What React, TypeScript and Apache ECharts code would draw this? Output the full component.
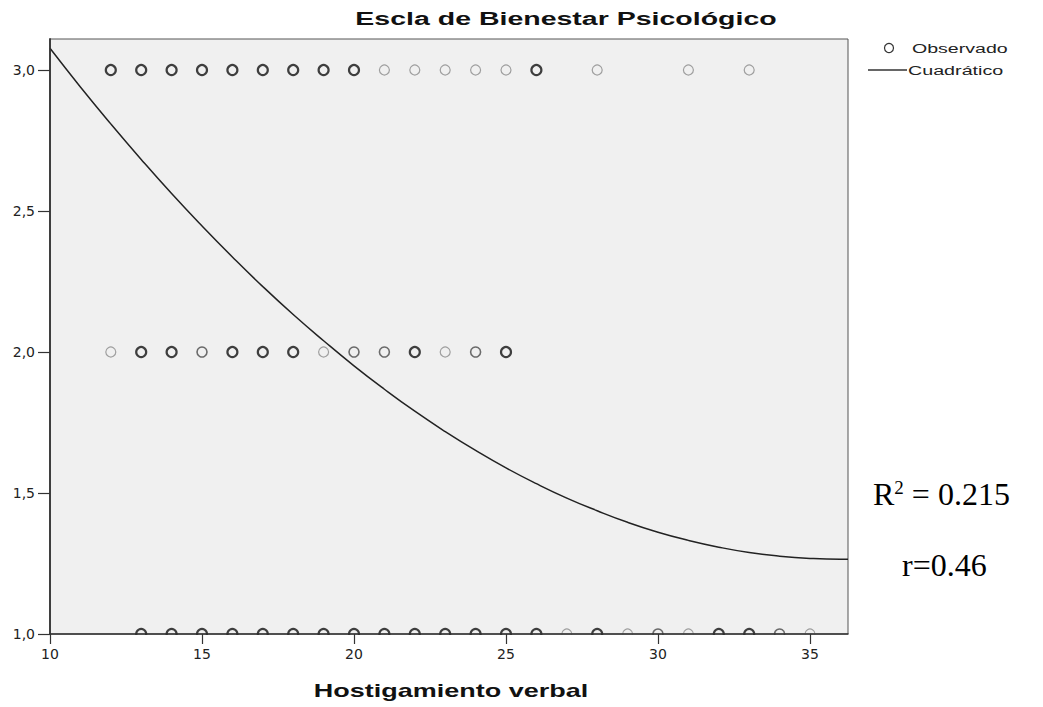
import React, { useEffect, useRef } from "react";
import * as echarts from "echarts";

// Observed points: x values per response level, and darkness (1 light .. 3 dense)
const row3X = [12, 13, 14, 15, 16, 17, 18, 19, 20, 21, 22, 23, 24, 25, 26, 28, 31, 33];
const row3W = [3, 3, 3, 3, 3, 3, 3, 3, 3, 1, 1, 1, 1, 1, 3, 1, 1, 1];
const row2X = [12, 13, 14, 15, 16, 17, 18, 19, 20, 21, 22, 23, 24, 25];
const row2W = [1, 3, 3, 2, 3, 3, 3, 1, 2, 2, 3, 1, 2, 3];
const row1X = [13, 14, 15, 16, 17, 18, 19, 20, 21, 22, 23, 24, 25, 26, 27, 28, 29, 30, 31, 32, 33, 34, 35];
const row1W = [3, 3, 3, 3, 3, 3, 3, 3, 3, 3, 3, 3, 3, 3, 1, 3, 1, 2, 1, 3, 3, 2, 1];

// Quadratic fit curve
const curveX = [10, 11, 12, 13, 14, 15, 16, 17, 18, 19, 20, 21, 22, 23, 24, 25, 26, 27, 28, 29, 30, 31, 32, 33, 34, 35, 36, 36.25];
const curveY = [
  3.077, 2.94, 2.809, 2.683, 2.562, 2.447, 2.337, 2.232, 2.133, 2.04, 1.951, 1.868, 1.79, 1.718,
  1.651, 1.589, 1.533, 1.482, 1.437, 1.396, 1.361, 1.332, 1.308, 1.289, 1.276, 1.268, 1.265, 1.265,
];

const xTicks = [10, 15, 20, 25, 30, 35];
const yTicks = [1, 1.5, 2, 2.5, 3];

const FONT = "'Liberation Sans', Arial, sans-serif";
const SERIF = "'Liberation Serif', 'Times New Roman', serif";
const shades = ["#8a8a8a", "#4a4a4a", "#111111"];
const widths = [1.2, 1.6, 2.2];

function pts(xs: number[], ws: number[], y: number) {
  return xs.map((x, i) => ({
    value: [x, y],
    itemStyle: { color: "none", borderColor: shades[ws[i] - 1], borderWidth: widths[ws[i] - 1] },
  }));
}

const labelStyle = {
  fontFamily: "'DejaVu Sans', sans-serif",
  fontSize: 14,
  color: "#222",
};

export default function App() {
  const ref = useRef<HTMLDivElement>(null);
  useEffect(() => {
    if (!ref.current) return;
    const chart = echarts.init(ref.current, undefined, { renderer: "svg" });
    const observed = [...pts(row3X, row3W, 3), ...pts(row2X, row2W, 2), ...pts(row1X, row1W, 1)];
    chart.setOption({
      animation: false,
      backgroundColor: "#ffffff",
      grid: {
        left: 50,
        top: 39,
        width: 798,
        height: 595,
        show: true,
        backgroundColor: "#f0f0f0",
        borderColor: "#555",
        borderWidth: 1,
      },
      xAxis: {
        type: "value",
        min: 10,
        max: 36.25,
        interval: 5,
        z: 10,
        splitLine: { show: false },
        axisLine: { show: true, lineStyle: { color: "#333", width: 1.5 } },
        axisTick: { show: true, length: 10, customValues: xTicks, lineStyle: { color: "#333", width: 1.2 } },
        axisLabel: {
          show: true,
          margin: 13,
          ...labelStyle,
          formatter: (v: number) => (xTicks.indexOf(v) >= 0 ? String(v) : ""),
        },
      },
      yAxis: {
        type: "value",
        min: 1,
        max: 3.11,
        interval: 0.5,
        z: 10,
        splitLine: { show: false },
        axisLine: { show: true, lineStyle: { color: "#333", width: 1.8 } },
        axisTick: { show: true, length: 12, customValues: yTicks, lineStyle: { color: "#333", width: 1.2 } },
        axisLabel: {
          show: true,
          margin: 15,
          ...labelStyle,
          formatter: (v: number) => (yTicks.indexOf(v) >= 0 ? v.toFixed(1).replace(".", ",") : ""),
        },
      },
      series: [
        {
          name: "Observado",
          type: "scatter",
          symbol: "circle",
          symbolSize: 10,
          z: 2,
          data: observed,
        },
        {
          name: "Cuadrático",
          type: "line",
          smooth: true,
          symbol: "none",
          z: 2,
          clip: true,
          lineStyle: { color: "#222", width: 1.5 },
          data: curveX.map((x, i) => [x, curveY[i]]),
        },
      ],
      graphic: [
        // mask hiding the lower half of the circles that sit on the x axis
        { type: "rect", z: 5, shape: { x: 100, y: 635, width: 740, height: 9 }, style: { fill: "#ffffff" } },
        {
          type: "text",
          x: 566,
          y: 18,
          scaleX: 1.5,
          style: {
            text: "Escla de Bienestar Psicológico",
            font: `bold 19px ${FONT}`,
            fill: "#111",
            textAlign: "center",
            textVerticalAlign: "middle",
          },
        },
        {
          type: "text",
          x: 451,
          y: 690,
          scaleX: 1.42,
          style: {
            text: "Hostigamiento verbal",
            font: `bold 19px ${FONT}`,
            fill: "#111",
            textAlign: "center",
            textVerticalAlign: "middle",
          },
        },
        { type: "circle", shape: { cx: 889, cy: 48, r: 4.5 }, style: { fill: "none", stroke: "#333", lineWidth: 1.2 } },
        {
          type: "text",
          x: 912,
          y: 49,
          scaleX: 1.45,
          style: { text: "Observado", font: `13.5px ${FONT}`, fill: "#222", textVerticalAlign: "middle" },
        },
        { type: "line", shape: { x1: 868, y1: 70, x2: 907, y2: 70 }, style: { stroke: "#333", lineWidth: 1.5 } },
        {
          type: "text",
          x: 908,
          y: 71,
          scaleX: 1.46,
          style: { text: "Cuadrático", font: `13.5px ${FONT}`, fill: "#222", textVerticalAlign: "middle" },
        },
        {
          type: "text",
          x: 873,
          y: 494,
          style: {
            text: "{a|R}{s|2}{a| = 0.215}",
            textVerticalAlign: "middle",
            rich: {
              a: { fontFamily: SERIF, fontSize: 32, color: "#000" },
              s: {
                fontFamily: SERIF,
                fontSize: 19,
                color: "#000",
                verticalAlign: "top",
                padding: [0, 0, 13, 0],
              },
            },
          },
        },
        {
          type: "text",
          x: 902,
          y: 565,
          style: {
            text: "r=0.46",
            font: `32px ${SERIF}`,
            fill: "#000",
            textVerticalAlign: "middle",
          },
        },
      ],
    });
    return () => chart.dispose();
  }, []);
  return (
    <div
      ref={ref}
      style={{ position: "fixed", left: 0, top: 0, width: 1043, height: 707, background: "#fff" }}
    />
  );
}
